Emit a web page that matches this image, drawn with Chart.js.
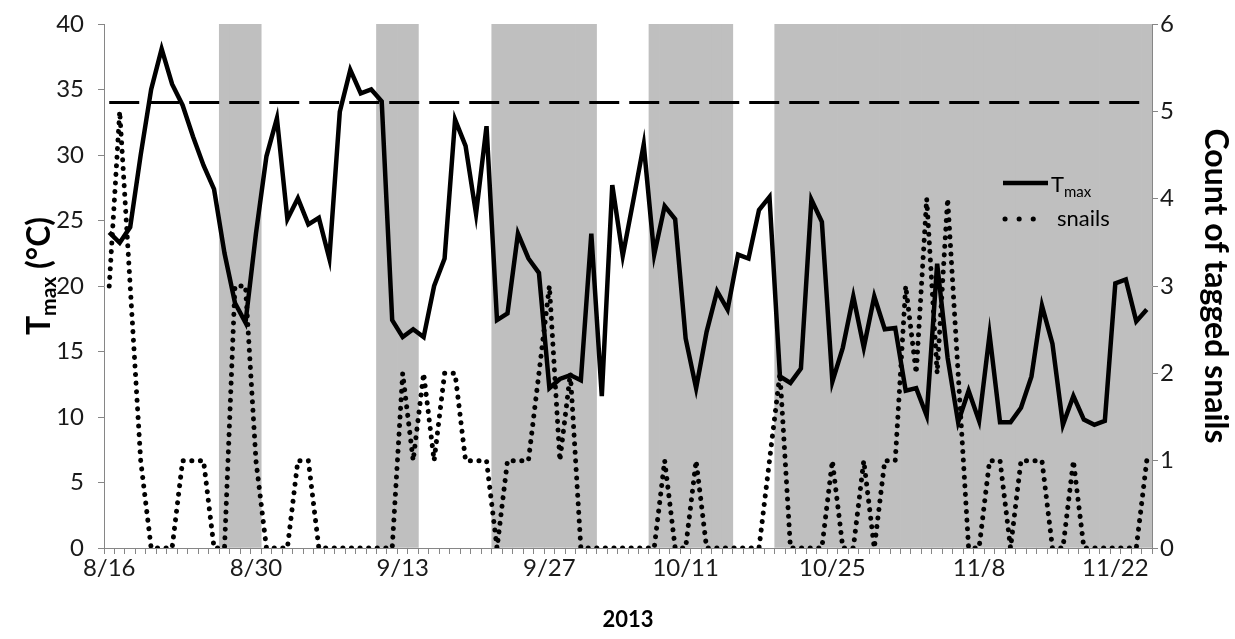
<!DOCTYPE html>
<html>
<head>
<meta charset="utf-8">
<script src="https://cdn.jsdelivr.net/npm/chart.js@4.4.1/dist/chart.umd.min.js"></script>
<style>
  html, body { margin: 0; padding: 0; background: #fff; }
  #wrap { width: 1235px; height: 639px; }
</style>
</head>
<body>
<div id="wrap"><canvas id="myChart"></canvas></div>
<script>
// daily dates of the record (10/4 and 11/15 missing)
var dates = [
  '8/16','8/17','8/18','8/19','8/20','8/21','8/22','8/23','8/24','8/25',
  '8/26','8/27','8/28','8/29','8/30','8/31','9/1','9/2','9/3','9/4',
  '9/5','9/6','9/7','9/8','9/9','9/10','9/11','9/12','9/13','9/14',
  '9/15','9/16','9/17','9/18','9/19','9/20','9/21','9/22','9/23','9/24',
  '9/25','9/26','9/27','9/28','9/29','9/30','10/1','10/2','10/3','10/5',
  '10/6','10/7','10/8','10/9','10/10','10/11','10/12','10/13','10/14','10/15',
  '10/16','10/17','10/18','10/19','10/20','10/21','10/22','10/23','10/24','10/25',
  '10/26','10/27','10/28','10/29','10/30','10/31','11/1','11/2','11/3','11/4',
  '11/5','11/6','11/7','11/8','11/9','11/10','11/11','11/12','11/13','11/14',
  '11/16','11/17','11/18','11/19','11/20','11/21','11/22','11/23','11/24','11/25'
];

// maximum temperature (deg C)
var tmax = [
  24.1, 23.3, 24.5, 30.0, 35.0, 38.1, 35.4, 33.8, 31.4, 29.2,
  27.4, 22.5, 18.7, 17.2, 24.0, 29.9, 32.8, 25.1, 26.7, 24.7,
  25.2, 22.1, 33.3, 36.5, 34.7, 35.0, 34.1, 17.4, 16.1, 16.7,
  16.1, 20.0, 22.1, 32.7, 30.7, 25.5, 32.2, 17.4, 17.9, 24.0,
  22.1, 21.0, 12.2, 12.9, 13.2, 12.8, 24.0, 11.6, 27.7, 22.3,
  26.5, 30.8, 22.4, 26.1, 25.1, 16.0, 12.2, 16.5, 19.6, 18.2,
  22.4, 22.1, 25.8, 26.8, 13.1, 12.6, 13.7, 26.6, 24.9, 12.7,
  15.3, 19.2, 15.3, 19.2, 16.7, 16.8, 12.0, 12.2, 10.1, 21.7,
  14.5, 9.6, 12.0, 9.7, 16.3, 9.6, 9.6, 10.7, 13.1, 18.5,
  15.6, 9.4, 11.6, 9.8, 9.4, 9.7, 20.2, 20.5, 17.3, 18.2
];

// count of tagged snails
var snails = [
  3, 5, 3, 1, 0, 0, 0, 1, 1, 1,
  0, 0, 3, 3, 1, 0, 0, 0, 1, 1,
  0, 0, 0, 0, 0, 0, 0, 0, 2, 1,
  2, 1, 2, 2, 1, 1, 1, 0, 1, 1,
  1, 2, 3, 1, 2, 0, 0, 0, 0, 0,
  0, 0, 0, 1, 0, 0, 1, 0, 0, 0,
  0, 0, 0, 1, 2, 0, 0, 0, 0, 1,
  0, 0, 1, 0, 1, 1, 3, 2, 4, 2,
  4, 2, 0, 0, 1, 1, 0, 1, 1, 1,
  0, 0, 1, 0, 0, 0, 0, 0, 0, 1
];

var tickDates = ['8/16', '8/30', '9/13', '9/27', '10/11', '10/25', '11/8', '11/22'];
var threshold = 34;
var shadedPeriods = [['8/27', '8/30'], ['9/11', '9/14'], ['9/22', '10/1'], ['10/8', '10/15'], ['10/20', '11/25']];
var tempMax = 40;

// shaded bars filling the full height on the shaded days
var shade = dates.map(function (d, i) {
  for (var k = 0; k < shadedPeriods.length; k++) {
    if (i >= dates.indexOf(shadedPeriods[k][0]) && i <= dates.indexOf(shadedPeriods[k][1])) return tempMax;
  }
  return null;
});

Chart.defaults.font.family = 'Lato';
Chart.defaults.color = '#1a1a1a';

var axisGray = '#868686';

// left title with subscript and the legend inside the plot
var extraText = {
  id: 'extraText',
  afterDraw: function (chart) {
    var ctx = chart.ctx, area = chart.chartArea;
    ctx.save();
    ctx.fillStyle = '#000';
    ctx.textBaseline = 'middle';

    // y title: T_max (°C)
    ctx.save();
    ctx.translate(40, (area.top + area.bottom) / 2 - 10);
    ctx.rotate(-Math.PI / 2);
    ctx.font = 'bold 32px Lato';
    var w1 = ctx.measureText('T').width;
    var w3 = ctx.measureText(' (°C)').width;
    ctx.font = 'bold 21px Lato';
    var w2 = ctx.measureText('max').width;
    var x = -(w1 + w2 + w3) / 2;
    ctx.font = 'bold 32px Lato';
    ctx.fillText('T', x, 0);
    ctx.font = 'bold 21px Lato';
    ctx.fillText('max', x + w1, 9);
    ctx.font = 'bold 32px Lato';
    ctx.fillText(' (°C)', x + w1 + w2, 0);
    ctx.restore();

    // legend
    var lx = area.right - 149, ly = area.top + 159;
    ctx.strokeStyle = '#000';
    ctx.lineWidth = 4.5;
    ctx.beginPath();
    ctx.moveTo(lx, ly);
    ctx.lineTo(lx + 45, ly);
    ctx.stroke();
    ctx.font = '22px Lato';
    ctx.fillText('T', lx + 48, ly + 2);
    var tw = ctx.measureText('T').width;
    ctx.font = '15px Lato';
    ctx.fillText('max', lx + 48 + tw, ly + 9);

    ctx.lineWidth = 5;
    ctx.lineCap = 'round';
    ctx.setLineDash([0.1, 14]);
    ctx.beginPath();
    ctx.moveTo(lx + 2, ly + 36);
    ctx.lineTo(lx + 32, ly + 36);
    ctx.stroke();
    ctx.setLineDash([]);
    ctx.font = '22px Lato';
    ctx.fillText('snails', lx + 54, ly + 36);
    ctx.restore();
  }
};

function tightY(s, w) {
  s.width = w;
  s.paddingTop = 0;
  s.paddingBottom = 0;
}

var ctx = document.getElementById('myChart').getContext('2d');
var chart = new Chart(ctx, {
  type: 'line',
  data: {
    labels: dates,
    datasets: [
      {
        label: 'threshold',
        data: dates.map(function () { return threshold; }),
        yAxisID: 'y',
        borderColor: '#000',
        borderWidth: 3,
        borderDash: [30, 10],
        pointRadius: 0,
        order: 0
      },
      {
        label: 'Tmax',
        data: tmax,
        yAxisID: 'y',
        borderColor: '#000',
        borderWidth: 4.5,
        pointRadius: 0,
        tension: 0,
        order: 1
      },
      {
        label: 'snails',
        data: snails,
        yAxisID: 'y2',
        borderColor: '#000',
        borderWidth: 5,
        borderDash: [0.1, 8.5],
        borderCapStyle: 'round',
        pointRadius: 0,
        tension: 0,
        order: 2
      },
      {
        type: 'bar',
        label: 'shade',
        data: shade,
        yAxisID: 'y',
        backgroundColor: '#bfbfbf',
        borderWidth: 0,
        barPercentage: 1,
        categoryPercentage: 1,
        order: 10
      }
    ]
  },
  options: {
    responsive: true,
    maintainAspectRatio: false,
    animation: false,
    layout: { padding: { top: 24, left: 0, right: 0, bottom: 0 } },
    plugins: {
      legend: { display: false },
      tooltip: { enabled: false }
    },
    scales: {
      x: {
        offset: true,
        grid: { display: true, drawOnChartArea: false, offset: true, color: axisGray, tickLength: 6 },
        border: { display: true, color: axisGray, width: 1 },
        ticks: {
          autoSkip: false,
          maxRotation: 0,
          padding: 0,
          font: { size: 24 },
          callback: function (value) {
            var d = this.getLabelForValue(value);
            return tickDates.indexOf(d) >= 0 ? d : '';
          }
        },
        title: { display: true, text: '2013', font: { size: 22, weight: 'bold' }, color: '#000', padding: { top: 0, bottom: 6 } },
        afterFit: function (s) { s.height = 91; }
      },
      y: {
        position: 'left',
        min: 0,
        max: tempMax,
        grid: { display: true, drawOnChartArea: false, color: axisGray, tickLength: 6 },
        border: { display: true, color: axisGray, width: 1 },
        ticks: { stepSize: 5, padding: 14, font: { size: 24 } },
        afterFit: function (s) { tightY(s, 104); }
      },
      y2: {
        position: 'right',
        min: 0,
        max: 6,
        grid: { display: true, drawOnChartArea: false, color: axisGray, tickLength: 6 },
        border: { display: true, color: axisGray, width: 1 },
        ticks: { stepSize: 1, padding: 2, font: { size: 24 } },
        title: { display: true, text: 'Count of tagged snails', font: { size: 32, weight: 'bold' }, color: '#000', padding: { top: 0, bottom: 4 } },
        afterFit: function (s) { tightY(s, 83); }
      }
    }
  },
  plugins: [extraText]
});
</script>
</body>
</html>
